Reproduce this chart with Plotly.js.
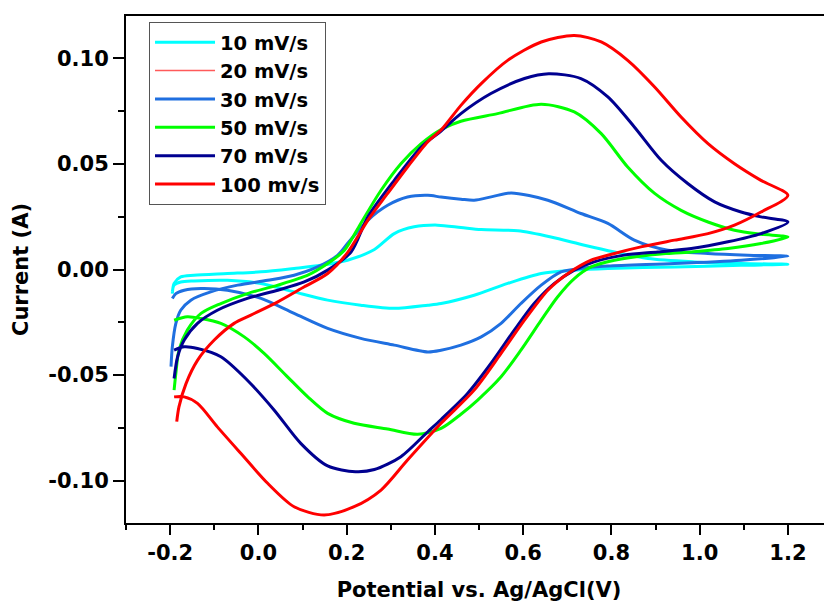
<!DOCTYPE html>
<html>
<head>
<meta charset="utf-8">
<script src="https://cdn.plot.ly/plotly-3.0.1.min.js"></script>
<style>
html,body{margin:0;padding:0;overflow:hidden;background:#fff;}
#chart{width:832px;height:603px;}
</style>
</head>
<body>
<div id="chart"></div>
<script>
// Series names
const seriesNames = ["10 mV/s", "20 mV/s", "30 mV/s", "50 mV/s", "70 mV/s", "100 mv/s"];

// 10 mV/s
const x10 = [-0.195,-0.191,-0.176,-0.146,-0.070,0.006,0.081,0.142,0.202,0.263,0.308,0.353,0.406,0.459,0.505,0.588,0.663,0.739,0.807,0.883,0.988,1.094,1.200,
             1.094,0.943,0.792,0.716,0.641,0.565,0.489,0.414,0.384,0.308,0.232,0.157,0.081,0.006,-0.070,-0.146,-0.176,-0.191,-0.195];
const y10 = [-0.0114,-0.0066,-0.0035,-0.0027,-0.0019,-0.0011,0.0005,0.0020,0.0044,0.0095,0.0170,0.0202,0.0210,0.0199,0.0189,0.0183,0.0154,0.0115,0.0083,0.0052,0.0036,0.0028,0.0025,
             0.0020,0.0012,0.0005,-0.0003,-0.0019,-0.0066,-0.0122,-0.0161,-0.0169,-0.0184,-0.0169,-0.0145,-0.0106,-0.0066,-0.0051,-0.0054,-0.0059,-0.0074,-0.0106];

// 20 mV/s (legend entry only; no curve visible in the figure)
const x20 = [null];
const y20 = [null];

// 30 mV/s
const x30 = [-0.198,-0.195,-0.187,-0.176,-0.153,-0.108,-0.047,0.021,0.081,0.134,0.180,0.202,0.248,0.293,0.338,0.384,0.414,0.459,0.489,0.530,0.573,0.656,0.731,0.792,0.852,0.928,1.019,1.109,1.200,
             1.094,0.943,0.792,0.731,0.686,0.641,0.595,0.550,0.505,0.459,0.414,0.384,0.308,0.232,0.157,0.081,0.006,-0.070,-0.130,-0.168,-0.187,-0.195];
const y30 = [-0.0460,-0.0366,-0.0255,-0.0193,-0.0145,-0.0106,-0.0074,-0.0051,-0.0027,0.0012,0.0068,0.0123,0.0233,0.0304,0.0343,0.0351,0.0343,0.0333,0.0328,0.0345,0.0362,0.0328,0.0265,0.0218,0.0139,0.0091,0.0076,0.0068,0.0063,
             0.0044,0.0028,0.0016,0.0005,-0.0011,-0.0074,-0.0161,-0.0255,-0.0319,-0.0358,-0.0382,-0.0390,-0.0358,-0.0326,-0.0279,-0.0208,-0.0137,-0.0098,-0.0090,-0.0098,-0.0114,-0.0137];

// 50 mV/s
const x50 = [-0.191,-0.187,-0.180,-0.161,-0.130,-0.085,-0.025,0.044,0.112,0.157,0.195,0.232,0.278,0.323,0.369,0.414,0.459,0.542,0.641,0.716,0.777,0.837,0.898,0.958,1.019,1.079,1.139,1.200,
             1.139,1.064,0.981,0.883,0.807,0.754,0.716,0.678,0.641,0.595,0.550,0.497,0.459,0.414,0.361,0.293,0.217,0.157,0.112,0.066,0.013,-0.032,-0.085,-0.130,-0.161,-0.191];
const y50 = [-0.0571,-0.0492,-0.0382,-0.0287,-0.0208,-0.0161,-0.0114,-0.0074,-0.0027,0.0028,0.0091,0.0218,0.0375,0.0501,0.0596,0.0663,0.0702,0.0738,0.0782,0.0746,0.0643,0.0485,0.0360,0.0280,0.0225,0.0186,0.0167,0.0154,
             0.0123,0.0099,0.0083,0.0068,0.0044,0.0012,-0.0043,-0.0130,-0.0240,-0.0382,-0.0508,-0.0618,-0.0685,-0.0752,-0.0780,-0.0755,-0.0728,-0.0681,-0.0603,-0.0508,-0.0397,-0.0319,-0.0255,-0.0232,-0.0224,-0.0240];

// 70 mV/s
const x70 = [-0.191,-0.183,-0.168,-0.138,-0.093,-0.025,0.044,0.104,0.157,0.210,0.248,0.308,0.369,0.414,0.459,0.527,0.603,0.658,0.731,0.792,0.852,0.913,0.973,1.034,1.094,1.139,1.200,
             1.139,1.064,0.981,0.905,0.829,0.761,0.716,0.671,0.625,0.580,0.527,0.474,0.414,0.384,0.323,0.263,0.220,0.157,0.096,0.036,-0.025,-0.085,-0.138,-0.168,-0.191];
const y70 = [-0.0516,-0.0413,-0.0334,-0.0255,-0.0193,-0.0137,-0.0098,-0.0059,-0.0003,0.0083,0.0249,0.0422,0.0580,0.0655,0.0738,0.0833,0.0904,0.0927,0.0904,0.0817,0.0675,0.0517,0.0407,0.0320,0.0272,0.0249,0.0225,
             0.0170,0.0131,0.0099,0.0083,0.0068,0.0036,-0.0003,-0.0066,-0.0161,-0.0287,-0.0445,-0.0587,-0.0710,-0.0768,-0.0886,-0.0947,-0.0957,-0.0930,-0.0823,-0.0666,-0.0524,-0.0413,-0.0374,-0.0366,-0.0382];

// 100 mV/s
const x100 = [-0.185,-0.180,-0.164,-0.138,-0.100,-0.055,-0.017,0.044,0.104,0.157,0.202,0.248,0.293,0.338,0.384,0.414,0.459,0.505,0.565,0.641,0.716,0.777,0.837,0.898,0.958,1.019,1.079,1.139,1.200,
              1.139,1.079,1.019,0.943,0.867,0.807,0.754,0.701,0.656,0.603,0.550,0.489,0.414,0.338,0.278,0.217,0.149,0.081,0.021,-0.040,-0.093,-0.138,-0.168,-0.191];
const y100 = [-0.0720,-0.0650,-0.0540,-0.0430,-0.0334,-0.0255,-0.0216,-0.0153,-0.0082,-0.0019,0.0080,0.0233,0.0360,0.0485,0.0605,0.0660,0.0777,0.0880,0.0990,0.1077,0.1108,0.1077,0.0990,0.0864,0.0722,0.0596,0.0501,0.0422,0.0351,
              0.0272,0.0210,0.0170,0.0139,0.0107,0.0076,0.0044,-0.0020,-0.0098,-0.0240,-0.0397,-0.0571,-0.0728,-0.0902,-0.1044,-0.1123,-0.1162,-0.1123,-0.1012,-0.0870,-0.0745,-0.0634,-0.0603,-0.0603];

// Tick labels
const xTickVals = [-0.2, 0.0, 0.2, 0.4, 0.6, 0.8, 1.0, 1.2];
const xTickText = ["-0.2", "0.0", "0.2", "0.4", "0.6", "0.8", "1.0", "1.2"];
const yTickVals = [-0.10, -0.05, 0.00, 0.05, 0.10];
const yTickText = ["-0.10", "-0.05", "0.00", "0.05", "0.10"];

const xs = [x10, x20, x30, x50, x70, x100];
const ys = [y10, y20, y30, y50, y70, y100];
const colors = ["#00ffff", "#ff5a5a", "#1f6fe0", "#00ff00", "#000090", "#ff0000"];
const widths = [3, 1.5, 3, 3, 3, 3];

const traces = seriesNames.map((n, i) => ({
  type: "scatter",
  mode: "lines",
  name: n,
  x: xs[i],
  y: ys[i],
  line: {color: colors[i], width: widths[i], shape: "spline", smoothing: 0.8},
  hoverinfo: "skip"
}));

const font = {family: "DejaVu Sans, Arial, sans-serif", size: 21, color: "#000", weight: "bold"};

const layout = {
  width: 832,
  height: 603,
  margin: {l: 126, r: 0, t: 16, b: 80},
  paper_bgcolor: "#fff",
  plot_bgcolor: "#fff",
  font: font,
  showlegend: true,
  legend: {
    x: 0.0326, y: 0.988, xanchor: "left", yanchor: "top",
    bgcolor: "#fff", bordercolor: "#555", borderwidth: 1,
    font: {family: font.family, size: 19.5, color: "#000", weight: "bold"},
    itemwidth: 60,
    tracegroupgap: 0
  },
  xaxis: {
    range: [-0.3, 1.3],
    showgrid: false, zeroline: false,
    showline: true, linewidth: 2, linecolor: "#000", mirror: true,
    tickmode: "array", tickvals: xTickVals, ticktext: xTickText,
    ticks: "outside", ticklen: 10, tickwidth: 2, tickcolor: "#000",
    minor: {tickmode: "linear", tick0: -0.3, dtick: 0.1, ticks: "outside", ticklen: 5, tickwidth: 2, tickcolor: "#000"},
    tickfont: font,
    title: {text: "Potential vs. Ag/AgCl(V)", font: font, standoff: 18}
  },
  yaxis: {
    range: [-0.12, 0.12],
    showgrid: false, zeroline: false,
    showline: true, linewidth: 2, linecolor: "#000", mirror: true,
    tickmode: "array", tickvals: yTickVals, ticktext: yTickText,
    ticks: "outside", ticklen: 11, tickwidth: 2, tickcolor: "#000",
    minor: {tickmode: "linear", tick0: -0.125, dtick: 0.025, ticks: "outside", ticklen: 6, tickwidth: 2, tickcolor: "#000"},
    tickfont: font,
    title: {text: "Current (A)", font: font, standoff: 14}
  }
};

Plotly.newPlot("chart", traces, layout, {staticPlot: true});
</script>
</body>
</html>
